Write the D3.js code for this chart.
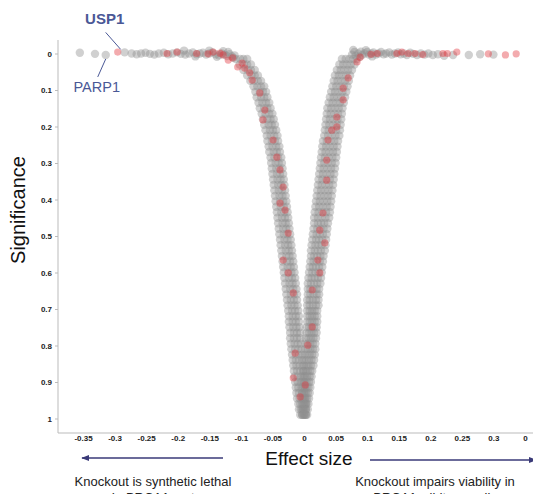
<!DOCTYPE html>
<html>
<head>
<meta charset="utf-8">
<script src="https://cdn.jsdelivr.net/npm/d3@7"></script>
<style>
  body { margin: 0; background: #fff; }
  svg { display: block; font-family: "Liberation Sans", Arial, sans-serif; }
  .tick text { font-size: 8px; font-weight: bold; fill: #222; }
  .tick line { stroke: #bbb; }
</style>
</head>
<body>
<svg id="chart" width="533" height="494"></svg>
<script>

// x ticks as printed on the chart (last one is cut at the edge)
var xTicks = [-0.35, -0.3, -0.25, -0.2, -0.15, -0.1, -0.05, 0, 0.05, 0.1, 0.15, 0.2, 0.25, 0.3, 0.35];
var xTickLabels = ["-0.35", "-0.3", "-0.25", "-0.2", "-0.15", "-0.1", "-0.05", "0", "0.05", "0.1", "0.15", "0.2", "0.25", "0.3", "0"];
var yTicks = [0, 0.1, 0.2, 0.3, 0.4, 0.5, 0.6, 0.7, 0.8, 0.9, 1];
var yTickLabels = ["0", "0.1", "0.2", "0.3", "0.4", "0.5", "0.6", "0.7", "0.8", "0.9", "1"];

// genes along the flat top row: [effect, significance]
var topGrey = [
  [-0.355,-0.002],[-0.331,0.001],[-0.314,0.004],[-0.284,-0.003],[-0.273,0.000],[-0.265,0.002],
  [-0.258,0.000],[-0.251,-0.002],[-0.244,0.001],[-0.237,0.003],[-0.230,0.000],[-0.222,-0.002],
  [-0.215,0.002],[-0.208,0.000],[-0.201,-0.003],[-0.195,0.001],[-0.190,-0.008],[-0.188,0.003],
  [-0.182,0.000],[-0.176,-0.003],[-0.172,0.008],[-0.170,0.002],[-0.165,0.000],[-0.160,-0.002],
  [-0.155,0.003],[-0.150,0.000],[-0.150,-0.008],[-0.145,-0.003],[-0.140,0.002],[-0.138,0.009],
  [-0.135,0.005],[-0.130,0.000],[-0.128,-0.006],[-0.126,0.003],[-0.122,0.007],[-0.120,-0.004],
  [-0.118,0.002],[-0.114,0.008],[-0.112,0.012],[-0.110,0.005],
  [0.076,0.003],[0.078,-0.010],[0.080,-0.004],[0.082,0.006],[0.086,0.000],[0.088,0.009],
  [0.090,-0.005],[0.092,0.004],[0.096,0.000],[0.098,-0.009],[0.100,-0.004],[0.103,0.003],
  [0.107,0.000],[0.108,0.008],[0.110,-0.003],[0.114,0.003],[0.118,0.000],[0.122,-0.004],
  [0.126,0.002],[0.130,0.000],[0.135,-0.003],[0.139,0.003],[0.144,0.000],[0.149,-0.003],
  [0.153,0.002],[0.158,0.000],[0.163,0.004],[0.168,-0.002],[0.173,0.001],[0.179,0.004],
  [0.185,0.000],[0.191,0.003],[0.197,0.000],[0.204,0.004],[0.212,0.002],[0.222,0.006],
  [0.236,0.004],[0.261,0.004],[0.279,0.002],[0.300,0.003]
];

// left arm of the V: [significance, effect, effect, ...]
var leftRows = [
  [0.015,-0.108,-0.101,-0.096,-0.090],[0.030,-0.102,-0.095,-0.090,-0.084],[0.045,-0.096,-0.089,-0.084,-0.078],
  [0.060,-0.090,-0.083,-0.078,-0.073],[0.075,-0.085,-0.079,-0.073,-0.068],[0.090,-0.080,-0.074,-0.068,-0.063],
  [0.105,-0.077,-0.070,-0.065,-0.060],[0.120,-0.075,-0.068,-0.063,-0.058],[0.135,-0.072,-0.066,-0.060,-0.055],
  [0.150,-0.070,-0.063,-0.058,-0.053],[0.165,-0.067,-0.061,-0.055,-0.050],[0.180,-0.065,-0.058,-0.053,-0.048],
  [0.195,-0.063,-0.056,-0.051,-0.046],[0.210,-0.061,-0.054,-0.049,-0.044],[0.225,-0.059,-0.053,-0.047,-0.042],
  [0.240,-0.058,-0.051,-0.046,-0.041],[0.255,-0.056,-0.050,-0.044,-0.039],[0.270,-0.055,-0.048,-0.043,-0.038],
  [0.285,-0.053,-0.047,-0.041,-0.036],[0.300,-0.052,-0.045,-0.040,-0.035],[0.315,-0.051,-0.044,-0.039,-0.034],
  [0.330,-0.050,-0.043,-0.038,-0.033],[0.345,-0.049,-0.042,-0.037,-0.032],[0.360,-0.048,-0.041,-0.036,-0.031],
  [0.375,-0.047,-0.040,-0.035,-0.030],[0.390,-0.046,-0.039,-0.034,-0.029],[0.405,-0.045,-0.038,-0.033,-0.028],
  [0.420,-0.044,-0.037,-0.032,-0.027],[0.435,-0.043,-0.036,-0.031,-0.026],[0.450,-0.042,-0.035,-0.030,-0.025],
  [0.465,-0.041,-0.034,-0.029,-0.024],[0.480,-0.040,-0.033,-0.028,-0.023],[0.495,-0.039,-0.032,-0.027,-0.022],
  [0.510,-0.038,-0.031,-0.026,-0.021],[0.525,-0.037,-0.030,-0.025,-0.020],[0.540,-0.036,-0.029,-0.024,-0.019],
  [0.555,-0.035,-0.028,-0.023,-0.018],[0.570,-0.034,-0.027,-0.022,-0.017],[0.585,-0.033,-0.026,-0.021,-0.016],
  [0.600,-0.032,-0.025,-0.020,-0.015],[0.615,-0.031,-0.024,-0.019,-0.014],[0.630,-0.030,-0.023,-0.018,-0.013],
  [0.645,-0.029,-0.022,-0.017,-0.012],[0.660,-0.028,-0.021,-0.016,-0.011],[0.675,-0.027,-0.021,-0.016,-0.011],
  [0.690,-0.026,-0.020,-0.015,-0.010],[0.705,-0.025,-0.019,-0.014,-0.009],[0.720,-0.024,-0.018,-0.013,-0.008],
  [0.735,-0.024,-0.018,-0.013,-0.008],[0.750,-0.023,-0.017,-0.012,-0.007],[0.765,-0.022,-0.016,-0.011,-0.006],
  [0.780,-0.022,-0.016,-0.011,-0.006],[0.795,-0.021,-0.015,-0.010,-0.005],[0.810,-0.020,-0.014,-0.009,-0.004],
  [0.825,-0.019,-0.013,-0.008,-0.003],[0.840,-0.018,-0.013,-0.008,-0.003],[0.855,-0.017,-0.012,-0.007,-0.002],
  [0.870,-0.016,-0.011,-0.006,-0.001],[0.885,-0.015,-0.010,-0.005,0.000],[0.900,-0.014,-0.010,-0.005,0.000],
  [0.915,-0.013,-0.009,-0.004,0.001],[0.930,-0.012,-0.008,-0.003,0.001],[0.945,-0.011,-0.007,-0.002,0.002],
  [0.960,-0.009,-0.006,-0.001,0.003],[0.975,-0.008,-0.005,-0.001,0.003],[0.990,-0.006,-0.003,0.000,0.003]
];

// right arm of the V
var rightRows = [
  [0.015,0.060,0.066,0.072,0.078,0.084],[0.030,0.056,0.062,0.068,0.074,0.080],[0.045,0.052,0.058,0.064,0.070,0.076],
  [0.060,0.049,0.055,0.061,0.067,0.073],[0.075,0.047,0.053,0.059,0.065,0.071],[0.090,0.045,0.051,0.057,0.063,0.069],
  [0.105,0.043,0.049,0.055,0.061,0.067],[0.120,0.041,0.047,0.053,0.059,0.065],[0.135,0.039,0.045,0.051,0.057,0.063],
  [0.150,0.037,0.043,0.049,0.055,0.061],[0.165,0.036,0.042,0.048,0.054,0.060],[0.180,0.035,0.041,0.047,0.053,0.059],
  [0.195,0.034,0.040,0.046,0.052,0.058],[0.210,0.033,0.039,0.045,0.051,0.057],[0.225,0.032,0.038,0.044,0.050,0.056],
  [0.240,0.030,0.036,0.042,0.048,0.054],[0.255,0.029,0.035,0.041,0.047,0.053],[0.270,0.028,0.034,0.040,0.046,0.052],
  [0.285,0.027,0.033,0.039,0.045,0.051],[0.300,0.026,0.032,0.038,0.044,0.050],[0.315,0.025,0.031,0.037,0.043,0.049],
  [0.330,0.024,0.030,0.036,0.042,0.048],[0.345,0.023,0.029,0.035,0.041,0.047],[0.360,0.022,0.028,0.034,0.040,0.046],
  [0.375,0.021,0.027,0.033,0.039,0.045],[0.390,0.020,0.026,0.032,0.038,0.044],[0.405,0.019,0.025,0.031,0.037,0.043],
  [0.420,0.018,0.024,0.030,0.036,0.042],[0.435,0.017,0.023,0.029,0.035,0.041],[0.450,0.016,0.022,0.028,0.034,0.040],
  [0.465,0.016,0.022,0.027,0.032,0.038],[0.480,0.015,0.021,0.026,0.031,0.037],[0.495,0.014,0.020,0.025,0.030,0.036],
  [0.510,0.013,0.019,0.024,0.029,0.035],[0.525,0.012,0.018,0.023,0.028,0.034],[0.540,0.011,0.017,0.022,0.027,0.033],
  [0.555,0.011,0.016,0.021,0.026,0.031],[0.570,0.010,0.015,0.020,0.025,0.030],[0.585,0.009,0.014,0.019,0.024,0.029],
  [0.600,0.008,0.013,0.018,0.023,0.028],[0.615,0.007,0.012,0.017,0.022,0.027],[0.630,0.006,0.011,0.016,0.021,0.026],
  [0.645,0.006,0.010,0.015,0.020,0.024],[0.660,0.006,0.010,0.015,0.020,0.024],[0.675,0.005,0.009,0.014,0.019,0.023],
  [0.690,0.005,0.009,0.014,0.019,0.023],[0.705,0.005,0.009,0.013,0.017,0.021],[0.720,0.005,0.009,0.013,0.017,0.021],
  [0.735,0.005,0.009,0.013,0.017,0.021],[0.750,0.004,0.008,0.012,0.016,0.020],[0.765,0.004,0.008,0.012,0.016,0.020],
  [0.780,0.003,0.007,0.011,0.015,0.019],[0.795,0.002,0.006,0.010,0.014,0.018],[0.810,0.002,0.006,0.010,0.014,0.018],
  [0.825,0.001,0.005,0.009,0.013,0.017],[0.840,0.000,0.004,0.008,0.012,0.016],[0.855,0.000,0.004,0.007,0.011,0.015],
  [0.870,-0.001,0.003,0.006,0.010,0.013],[0.885,-0.002,0.002,0.005,0.009,0.012],[0.900,-0.002,0.001,0.004,0.008,0.011],
  [0.915,-0.002,0.001,0.004,0.007,0.010],[0.930,-0.003,0.000,0.003,0.006,0.009],[0.945,-0.003,0.000,0.002,0.005,0.008],
  [0.960,-0.003,0.000,0.002,0.004,0.007],[0.975,-0.003,-0.001,0.001,0.003,0.006],[0.990,-0.003,-0.001,0.001,0.003,0.005]
];

// highlighted genes (red): [effect, significance]
var redGenes = [
  [-0.295,-0.004],[-0.217,0.000],[-0.201,-0.004],[-0.170,0.000],[-0.152,0.001],[-0.144,-0.004],
  [-0.133,-0.001],[-0.128,0.004],[-0.120,0.018],[-0.113,0.012],[-0.105,0.037],[-0.098,0.026],
  [-0.094,0.040],[-0.086,0.053],[-0.082,0.073],[-0.070,0.108],[-0.062,0.155],[-0.065,0.182],
  [-0.049,0.237],[-0.043,0.284],[-0.038,0.319],[-0.033,0.366],[-0.038,0.410],[-0.030,0.429],
  [-0.025,0.492],[-0.033,0.566],[-0.025,0.601],[-0.017,0.656],[-0.014,0.821],[-0.017,0.889],
  [-0.006,0.941],[0.002,0.908],
  [0.070,0.067],[0.062,0.095],[0.062,0.127],[0.052,0.174],[0.052,0.201],[0.044,0.210],
  [0.038,0.237],[0.036,0.292],[0.036,0.347],[0.030,0.437],[0.025,0.484],[0.033,0.519],
  [0.022,0.566],[0.025,0.601],[0.013,0.648],[0.013,0.749],[0.006,0.799],
  [0.089,0.010],[0.084,0.023],[0.106,0.002],[0.116,0.000],[0.147,0.000],[0.155,-0.004],
  [0.165,0.000],[0.176,0.000],[0.188,0.003],[0.220,0.000],[0.227,0.000],[0.242,-0.004],
  [0.292,0.001],[0.319,0.004],[0.336,0.001]
];

var labelledGenes = [
  {name: "USP1", effect: -0.284, sig: -0.003, bold: true},
  {name: "PARP1", effect: -0.314, sig: 0.004, bold: false}
];

//---------------------------------------
var svg = d3.select("#chart");

var x = d3.scaleLinear().domain([-0.35, 0.35]).range([83, 525]);
var y = d3.scaleLinear().domain([0, 1]).range([53.5, 418.5]);

var axisX0 = 58, axisY0 = 433;

// soft edges like the original render
svg.append("defs").append("filter")
  .attr("id", "soft")
  .append("feGaussianBlur")
  .attr("stdDeviation", 0.7);

// flatten the rows into points
var greyPoints = topGrey.slice();
leftRows.concat(rightRows).forEach(function(row) {
  row.slice(1).forEach(function(e) { greyPoints.push([e, row[0]]); });
});

var dots = svg.append("g").attr("filter", "url(#soft)");

dots.append("g")
  .selectAll("circle")
  .data(greyPoints)
  .enter().append("circle")
  .attr("cx", function(d) { return x(d[0]); })
  .attr("cy", function(d) { return y(d[1]); })
  .attr("r", 4.2)
  .attr("fill", "#8e8e8e")
  .attr("fill-opacity", 0.42);

dots.append("g")
  .selectAll("circle")
  .data(redGenes)
  .enter().append("circle")
  .attr("cx", function(d) { return x(d[0]); })
  .attr("cy", function(d) { return y(d[1]); })
  .attr("r", 3.6)
  .attr("fill", "#e3343c")
  .attr("fill-opacity", 0.42);

//---------------------------------------
// axes
svg.append("line")
  .attr("x1", axisX0).attr("x2", axisX0).attr("y1", 40).attr("y2", axisY0)
  .attr("stroke", "#bbb");
svg.append("line")
  .attr("x1", axisX0).attr("x2", 533).attr("y1", axisY0).attr("y2", axisY0)
  .attr("stroke", "#bbb");

var gy = svg.append("g")
  .attr("transform", "translate(" + axisX0 + ",0)")
  .call(d3.axisLeft(y).tickValues(yTicks).tickSize(3).tickPadding(3)
    .tickFormat(function(d, i) { return yTickLabels[i]; }));
gy.select(".domain").remove();

var gx = svg.append("g")
  .attr("transform", "translate(0," + axisY0 + ")")
  .call(d3.axisBottom(x).tickValues(xTicks).tickSize(0).tickPadding(2.5)
    .tickFormat(function(d, i) { return xTickLabels[i]; }));
gx.select(".domain").remove();

svg.append("text")
  .attr("transform", "translate(25,210) rotate(-90)")
  .attr("text-anchor", "middle")
  .attr("font-size", 20)
  .attr("fill", "#111")
  .text("Significance");

svg.append("text")
  .attr("x", 309).attr("y", 465)
  .attr("text-anchor", "middle")
  .attr("font-size", 19)
  .attr("fill", "#111")
  .text("Effect size");

//---------------------------------------
// direction arrows and captions
var navy = "#3a3a78";
svg.select("defs").append("marker")
  .attr("id", "head")
  .attr("viewBox", "0 0 10 10")
  .attr("refX", 9).attr("refY", 5)
  .attr("markerWidth", 6).attr("markerHeight", 6)
  .attr("orient", "auto-start-reverse")
  .append("path")
  .attr("d", "M0,1L10,5L0,9z")
  .attr("fill", navy);

svg.append("line")
  .attr("x1", 223).attr("y1", 458).attr("x2", 82).attr("y2", 458)
  .attr("stroke", navy).attr("stroke-width", 1.3)
  .attr("marker-end", "url(#head)");
svg.append("line")
  .attr("x1", 370).attr("y1", 460).attr("x2", 536).attr("y2", 460)
  .attr("stroke", navy).attr("stroke-width", 1.3)
  .attr("marker-end", "url(#head)");

// second caption lines run off the bottom edge, as in the original
var captions = [
  {x: 153, lines: ["Knockout is synthetic lethal", "In BRCA1 mut"]},
  {x: 435, lines: ["Knockout impairs viability in", "BRCA1 wildtype cells"]}
];
captions.forEach(function(c) {
  c.lines.forEach(function(t, i) {
    svg.append("text")
      .attr("x", c.x).attr("y", 486 + i * 15.5)
      .attr("text-anchor", "middle")
      .attr("font-size", 13)
      .attr("fill", "#222")
      .text(t);
  });
});

//---------------------------------------
// gene labels
var blue = "#4a5896";
labelledGenes.forEach(function(g) {
  var px = x(g.effect), py = y(g.sig);
  if (g.bold) {
    svg.append("line")
      .attr("x1", px - 19).attr("y1", py - 20).attr("x2", px - 4).attr("y2", py - 3)
      .attr("stroke", blue).attr("stroke-width", 1);
    svg.append("text")
      .attr("x", px - 20).attr("y", py - 28)
      .attr("text-anchor", "middle")
      .attr("font-size", 15).attr("font-weight", "bold")
      .attr("fill", blue)
      .text(g.name);
  } else {
    svg.append("line")
      .attr("x1", px).attr("y1", py + 4).attr("x2", px - 8).attr("y2", py + 22)
      .attr("stroke", blue).attr("stroke-width", 1);
    svg.append("text")
      .attr("x", px - 9).attr("y", py + 37)
      .attr("text-anchor", "middle")
      .attr("font-size", 14.5)
      .attr("fill", blue)
      .text(g.name);
  }
});

</script>
</body>
</html>
